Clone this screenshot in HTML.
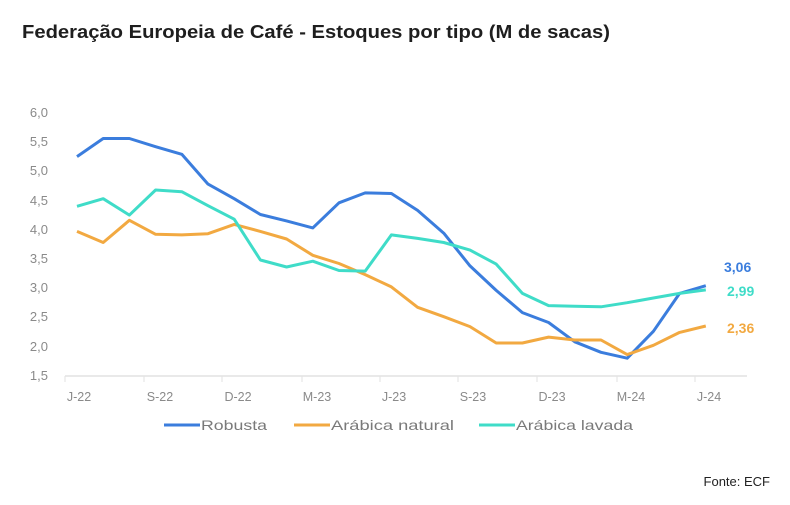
<!DOCTYPE html>
<html><head><meta charset="utf-8"><style>
body{margin:0;background:#fff;}
svg{display:block;font-family:"Liberation Sans",sans-serif;}
</style></head><body>
<svg width="790" height="505" viewBox="0 0 790 505">
<text x="22" y="38" font-size="18" font-weight="bold" fill="#1e1e1e" textLength="588" lengthAdjust="spacingAndGlyphs">Federação Europeia de Café - Estoques por tipo (M de sacas)</text>
<g font-size="13" fill="#8a8a8a" text-anchor="end">
<text x="48" y="117">6,0</text><text x="48" y="146">5,5</text><text x="48" y="175">5,0</text><text x="48" y="205">4,5</text><text x="48" y="234">4,0</text><text x="48" y="263">3,5</text><text x="48" y="292">3,0</text><text x="48" y="321">2,5</text><text x="48" y="351">2,0</text><text x="48" y="380">1,5</text>
</g>
<line x1="65" y1="376" x2="747" y2="376" stroke="#e2e2e2" stroke-width="1.5"/>
<g stroke="#e2e2e2" stroke-width="1">
<line x1="65" y1="376" x2="65" y2="382"/><line x1="144" y1="376" x2="144" y2="382"/><line x1="222" y1="376" x2="222" y2="382"/><line x1="302" y1="376" x2="302" y2="382"/><line x1="380" y1="376" x2="380" y2="382"/><line x1="458" y1="376" x2="458" y2="382"/><line x1="537" y1="376" x2="537" y2="382"/><line x1="617" y1="376" x2="617" y2="382"/><line x1="695" y1="376" x2="695" y2="382"/>
</g>
<g font-size="12.5" fill="#8a8a8a" text-anchor="middle">
<text x="79" y="401">J-22</text><text x="160" y="401">S-22</text><text x="238" y="401">D-22</text><text x="317" y="401">M-23</text><text x="394" y="401">J-23</text><text x="473" y="401">S-23</text><text x="552" y="401">D-23</text><text x="631" y="401">M-24</text><text x="709" y="401">J-24</text>
</g>
<polyline fill="none" stroke="#3b7ddd" stroke-width="3" stroke-linejoin="round" points="77.0,156.6 103.2,138.5 129.4,138.5 155.6,146.7 181.8,154.3 208.0,184.1 234.2,198.7 260.4,214.5 286.6,220.9 312.8,227.9 339.0,202.8 365.2,192.9 391.4,193.5 417.6,210.4 443.8,233.2 470.0,265.9 496.2,290.4 522.4,312.6 548.6,322.5 574.8,341.8 601.0,352.3 627.2,358.2 653.4,331.3 679.6,293.4 705.8,285.7"/>
<polyline fill="none" stroke="#f2a941" stroke-width="3" stroke-linejoin="round" points="77.0,231.4 103.2,242.5 129.4,220.3 155.6,234.3 181.8,234.9 208.0,233.7 234.2,224.4 260.4,231.4 286.6,239.0 312.8,255.3 339.0,263.5 365.2,274.6 391.4,286.9 417.6,307.3 443.8,316.7 470.0,326.6 496.2,343.0 522.4,343.0 548.6,337.1 574.8,340.0 601.0,340.0 627.2,354.6 653.4,345.3 679.6,332.4 705.8,326.0"/>
<polyline fill="none" stroke="#3fdcc8" stroke-width="3" stroke-linejoin="round" points="77.0,206.3 103.2,198.7 129.4,215.1 155.6,190.0 181.8,191.7 208.0,205.7 234.2,219.2 260.4,260.0 286.6,267.0 312.8,261.2 339.0,270.5 365.2,271.1 391.4,234.9 417.6,238.4 443.8,242.5 470.0,250.1 496.2,264.1 522.4,293.4 548.6,305.6 574.8,306.2 601.0,306.8 627.2,302.7 653.4,298.0 679.6,293.4 705.8,289.9"/>
<g font-size="14" font-weight="bold">
<text x="724" y="272" fill="#3b7ddd">3,06</text>
<text x="727" y="296" fill="#3fdcc8">2,99</text>
<text x="727" y="333" fill="#f2a941">2,36</text>
</g>
<g font-size="14" fill="#7a7a7a">
<line x1="164" y1="425" x2="200" y2="425" stroke="#3b7ddd" stroke-width="3"/><text x="201" y="430" textLength="66" lengthAdjust="spacingAndGlyphs">Robusta</text>
<line x1="294" y1="425" x2="330" y2="425" stroke="#f2a941" stroke-width="3"/><text x="331" y="430" textLength="123" lengthAdjust="spacingAndGlyphs">Arábica natural</text>
<line x1="479" y1="425" x2="515" y2="425" stroke="#3fdcc8" stroke-width="3"/><text x="516" y="430" textLength="117" lengthAdjust="spacingAndGlyphs">Arábica lavada</text>
</g>
<text x="770" y="486" font-size="13" fill="#222" text-anchor="end">Fonte: ECF</text>
</svg>
</body></html>
